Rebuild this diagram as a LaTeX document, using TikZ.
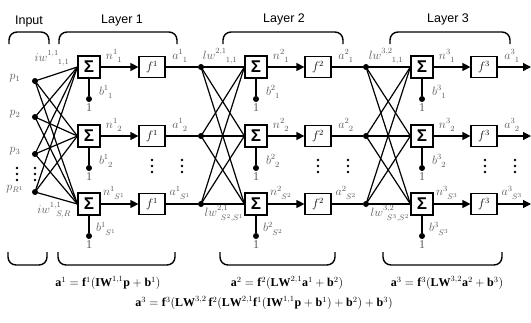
\documentclass[tikz,border=0pt]{standalone}
\usepackage{amsmath,amssymb}
\usepackage{fontspec}
\setmainfont{Liberation Serif}
\setsansfont{Liberation Sans}
\usetikzlibrary{positioning,calc,arrows.meta}

\tikzset{
    sumbox/.style={draw, line width=1.2pt, minimum width=22pt, minimum height=22pt, inner sep=0pt, fill=white, font=\sffamily\bfseries\fontsize{17}{17}\selectfont},
    fbox/.style={draw, line width=1.2pt, minimum width=26pt, minimum height=21pt, inner sep=0pt, fill=white, font=\large},
    wire/.style={line width=1.2pt},
    sig/.style={wire, -{Triangle[length=8pt,width=8pt]}},
    dot/.style={circle, fill, inner sep=0pt, minimum size=6pt},
    lbl/.style={text=black!65, font=\large, inner sep=0pt},
    head/.style={font=\sffamily\fontsize{12.5}{14}\selectfont},
    brace/.style={line width=1.4pt, rounded corners=8pt},
    eqn/.style={font=\fontsize{12}{14}\selectfont}
}

\begin{document}
\begin{tikzpicture}[x=1pt,y=-1pt]
    \useasboundingbox (0,0) rectangle (531,322);

    % Headings and braces
    \node[head] at (29,21) {Input};
    \node[head] at (122,20) {Layer 1};
    \node[head] at (284,19) {Layer 2};
    \node[head] at (448,19) {Layer 3};
    \foreach \xa/\xb in {9/49, 59/177, 223/343, 390/510}
        \draw[brace] (\xa,44) -- (\xa,32) -- (\xb,32) -- (\xb,44);
    \foreach \xa/\xb in {8/47, 58/175, 220/335, 383/502}
        \draw[brace] (\xa,252) -- (\xa,265) -- (\xb,265) -- (\xb,252);

    % Inputs
    \foreach \i/\y/\name in {1/81/1, 2/117/2, 3/154/3, 4/192/{R^1}}{
        \node[dot] (p\i) at (35,\y) {};
        \node[lbl] at (15,\y-3) {$p_{\name}$};
    }

    % Layers
    \foreach \l/\xs/\xf in {1/89/152, 2/256/318, 3/422/484}{
        \foreach \r/\y/\sub in {1/67/1, 2/136/2, 3/204/{S^{\l}}}{
            \node[sumbox] (s\l\r) at (\xs,\y) {Σ};
            \node[fbox] (f\l\r) at (\xf,\y) {$f^{\l}$};
            \node[dot] (b\l\r) at (\xs,\y+32) {};
            \draw[sig] (s\l\r) -- (f\l\r);
            \draw[wire] (s\l\r) -- (b\l\r);
            \node[lbl, below=1pt of b\l\r] {1};
            \node[lbl] at (\xs+17,\y+25) {$b^{\l}_{\hphantom{\l}\sub}$};
            \node[lbl] at (\xs+25,\y-11) {$n^{\l}_{\hphantom{\l}\sub}$};
            \node[lbl] at (\xf+28,\y-11) {$a^{\l}_{\hphantom{\l}\sub}$};
        }
    }

    % Hidden layer inputs
    \foreach \l/\xd in {2/201, 3/366}
        \foreach \r/\y in {1/67, 2/136, 3/204}
            \node[dot] (d\l\r) at (\xd,\y) {};

    % Connections
    \foreach \r/\y in {1/67, 2/136, 3/204}{
        \coordinate (o\r) at (531,\y);
        \draw[wire] (f1\r) -- (d2\r) -- (s2\r);
        \draw[wire] (f2\r) -- (d3\r) -- (s3\r);
        \draw[sig] (f3\r) -- (o\r);
        \foreach \i in {1,...,4}
            \draw[wire] (p\i.center) -- (s1\r.west);
        \foreach \i in {1,2,3}{
            \draw[wire] (d2\i.center) -- (s2\r.west);
            \draw[wire] (d3\i.center) -- (s3\r.west);
        }
    }

    % Weights
    \node[lbl] at (52,58) {$iw^{1,1}_{\hphantom{1,1}1,1}$};
    \node[lbl] at (54,210) {$iw^{1,1}_{\hphantom{1,}S,R}$};
    \node[lbl] at (220,56) {$lw^{2,1}_{\hphantom{2,1}1,1}$};
    \node[lbl] at (224,214) {$lw^{2,1}_{\hphantom{2}S^2,S^1}$};
    \node[lbl] at (386,56) {$lw^{3,2}_{\hphantom{3,2}1,1}$};
    \node[lbl] at (390,214) {$lw^{3,2}_{\hphantom{3}S^3,S^2}$};

    % Vertical ellipses
    \foreach \x in {17,35}
        \foreach \yy in {168,174,180}
            \fill (\x,\yy) circle (1.3pt);
    \foreach \x in {152,182,318,348,485,515}
        \foreach \yy in {160,166,172}
            \fill (\x,\yy) circle (1.3pt);

    % Equations
    \node[eqn] at (108,283) {$\mathbf{a}^1 = \mathbf{f}^1(\mathbf{IW}^{1,1}\mathbf{p}+\mathbf{b}^1)$};
    \node[eqn] at (287,283) {$\mathbf{a}^2 = \mathbf{f}^2(\mathbf{LW}^{2,1}\mathbf{a}^1+\mathbf{b}^2)$};
    \node[eqn] at (447,283) {$\mathbf{a}^3 = \mathbf{f}^3(\mathbf{LW}^{3,2}\mathbf{a}^2+\mathbf{b}^3)$};
    \node[eqn] at (264,303) {$\mathbf{a}^3 = \mathbf{f}^3(\mathbf{LW}^{3,2}\,\mathbf{f}^2(\mathbf{LW}^{2,1}\mathbf{f}^1(\mathbf{IW}^{1,1}\mathbf{p}+\mathbf{b}^1)+\mathbf{b}^2)+\mathbf{b}^3)$};
\end{tikzpicture}
\end{document}
